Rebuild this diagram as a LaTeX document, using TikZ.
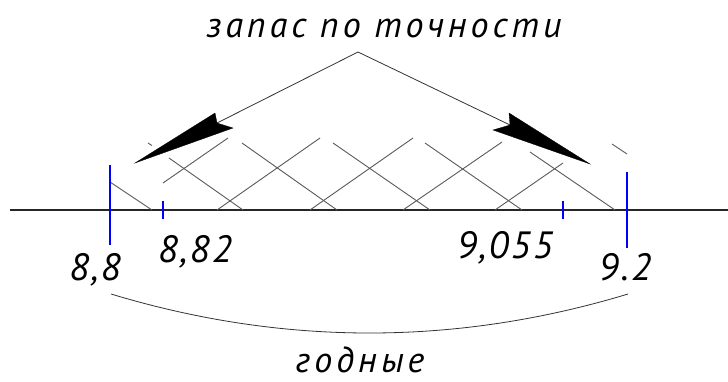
\documentclass[tikz,border=0pt]{standalone}
\usepackage{fontspec}
\setmainfont{PT Sans}
\begin{document}
\begin{tikzpicture}[x=1pt,y=-1pt,
  axisline/.style={line width=1.2pt,black!85},
  hatchline/.style={line width=0.9pt,black!65},
  limtick/.style={line width=2.4pt,blue},
  subtick/.style={line width=2pt,blue},
  leader/.style={line width=0.8pt,black!80},
  arrowfill/.style={fill=black,draw=black,line width=0.3pt,line join=miter},
  lbl/.style={font=\fontsize{38}{40}\selectfont\itshape\addfontfeature{LetterSpace=6},anchor=base,inner sep=0pt},
  ttl/.style={font=\fontsize{36}{40}\selectfont\itshape\addfontfeature{LetterSpace=11},anchor=base,inner sep=0pt}]
\useasboundingbox (0,0) rectangle (728,381);
% axis
\coordinate (axL) at (10,210);
\coordinate (axR) at (728,210);
\draw[axisline] (axL) -- (axR);
% hatch: down-right lines
\draw[hatchline] (110,182) -- (152,210);
\draw[hatchline] (169,158) -- (243,210);
\draw[hatchline] (242,143) -- (337,210);
\draw[hatchline] (333,143) -- (430,210);
\draw[hatchline] (425,143) -- (522,210);
\draw[hatchline] (530,152) -- (615,210);
\draw[hatchline] (612,144) -- (627,154);
\draw[hatchline] (148,143) -- (152,145.5);
% hatch: up-right lines
\draw[hatchline] (163,183) -- (228,138);
\draw[hatchline] (217,210) -- (320,138);
\draw[hatchline] (310,210) -- (413,138);
\draw[hatchline] (403,210) -- (502,142);
\draw[hatchline] (495,210) -- (563,163);
% limit ticks
\draw[limtick] (110,165) -- (110,245);
\draw[limtick] (627,172) -- (627,248);
\draw[subtick] (163,201) -- (163,219);
\draw[subtick] (563,201) -- (563,219);
% leaders and arrowheads
\coordinate (apex) at (358,52);
\coordinate (nl) at (217,123);
\coordinate (nr) at (510,125);
\draw[leader] (nl) -- (apex) -- (nr);
\fill[arrowfill] (135,163) -- (215,113) -- (nl) -- (233,128) -- cycle;
\fill[arrowfill] (590,164) -- (509,113) -- (nr) -- (493,130) -- cycle;
% arc
\coordinate (arcL) at (111,294);
\coordinate (arcR) at (628,294);
\draw[leader] (arcL) .. controls (283,346) and (456,346) .. (arcR);
% texts
\node[ttl] (title) at (384,37) {запас по точности};
\node[lbl] (t88) at (95,280) {8,8};
\node[lbl] (t882) at (195,262) {8,82};
\node[lbl] (t9055) at (505,258) {9,055};
\node[lbl] (t92) at (625,280) {9.2};
\node[ttl] (good) at (360,372) {годные};
\end{tikzpicture}
\end{document}
